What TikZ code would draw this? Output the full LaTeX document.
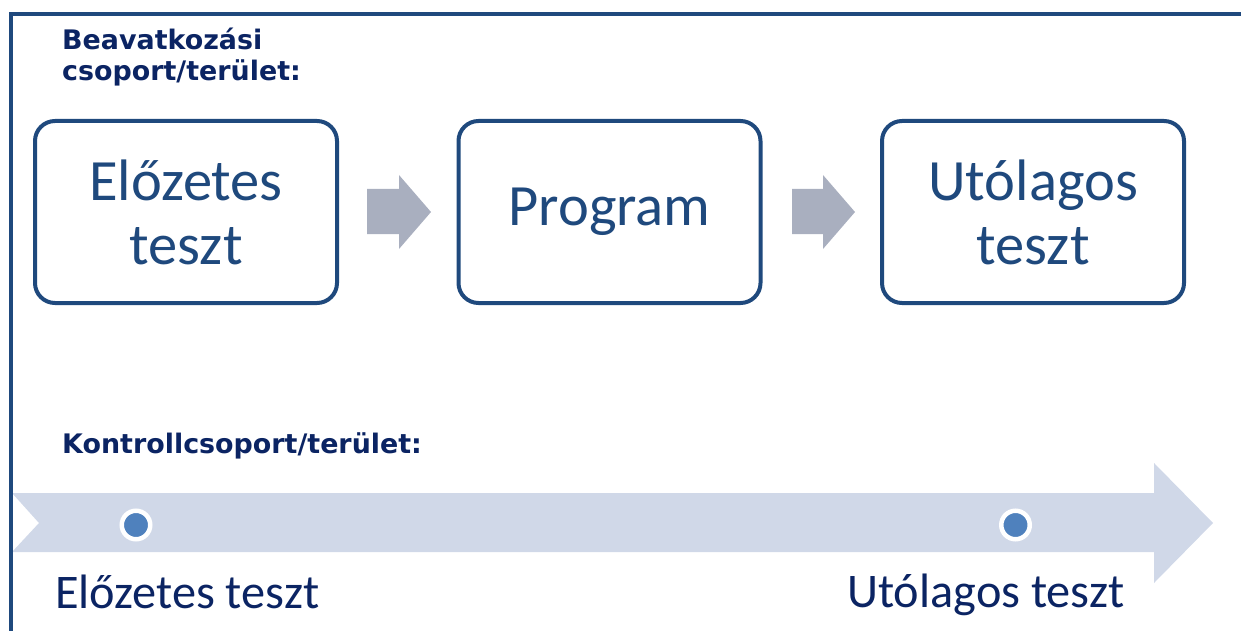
\documentclass[tikz,border=0pt]{standalone}
\usepackage{fontspec}
\setmainfont{Carlito}
\newfontfamily\headfont{DejaVu Sans}
\definecolor{boxblue}{HTML}{1F497D}
\definecolor{navy}{HTML}{0B2463}
\definecolor{arrowgray}{HTML}{A9AFBF}
\definecolor{lightband}{HTML}{D0D8E8}
\definecolor{dotblue}{HTML}{4F81BD}
\begin{document}
\begin{tikzpicture}[x=1pt,y=-1pt,
  stepbox/.style={draw=boxblue, line width=4pt, rounded corners=20pt,
    minimum width=302pt, minimum height=182pt, inner sep=0pt, text=boxblue,
    font=\fontsize{58.5}{64}\selectfont, align=center},
  heading/.style={inner sep=0pt, text=navy, font=\headfont\bfseries\fontsize{26.9}{31}\selectfont, align=left},
  bottomlabel/.style={inner sep=0pt, text=navy, font=\fontsize{48.3}{56}\selectfont},
  grayarrow/.style={fill=arrowgray},
  band/.style={fill=lightband},
  frameline/.style={draw=boxblue, line width=3.5pt},
  dot/.style={circle, fill=dotblue, draw=white, line width=4.5pt, minimum size=28.5pt, inner sep=0pt}]
\useasboundingbox (0,0) rectangle (1241,631);
% light band arrow
\path[band] (12,493) -- (1154,493) -- (1154,463) -- (1213,523) -- (1154,583)
  -- (1154,552) -- (12,552) -- (39,523) -- cycle;
% frame
\path[frameline] (1241,14) -- (11,14) -- (11,631);
% headings
\node[heading, anchor=base west] (h1) at (62,81) {Beavatkozási\\csoport/terület:};
\node[heading, anchor=base west] (h2) at (62,453) {Kontrollcsoport/terület:};
% boxes
\node[stepbox] (b1) at (186,212) {Előzetes\\teszt};
\node[stepbox] (b2) at (609.5,212) {Program};
\node[stepbox] (b3) at (1033,212) {Utólagos\\teszt};
% gray arrows
\path[grayarrow] (367,189) -- (399,189) -- (399,175) -- (431,212) -- (399,249)
  -- (399,234) -- (367,234) -- cycle;
\path[grayarrow] (792,189) -- (823,189) -- (823,175) -- (855,212) -- (823,249)
  -- (823,234) -- (792,234) -- cycle;
% dots
\node[dot] (d1) at (136,525) {};
\node[dot] (d2) at (1015.5,525) {};
% bottom labels
\node[bottomlabel, anchor=base west] (l1) at (55,608) {Előzetes teszt};
\node[bottomlabel, anchor=base west] (l2) at (847,607) {Utólagos teszt};
\end{tikzpicture}
\end{document}
